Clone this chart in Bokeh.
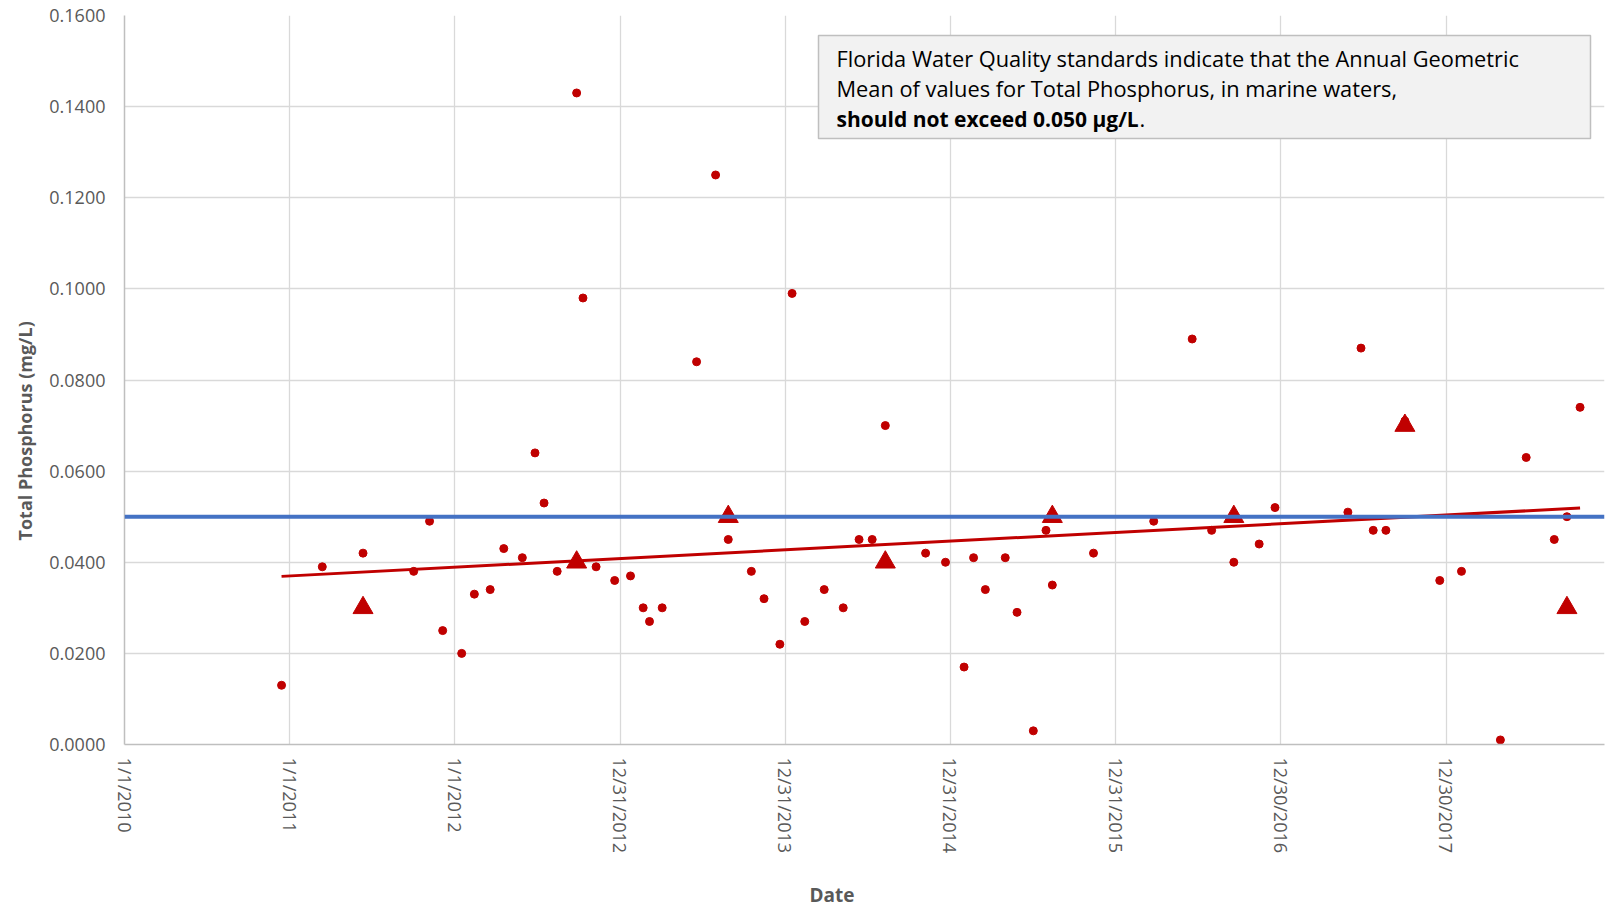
import pandas as pd
from bokeh.plotting import figure
from bokeh.models import (ColumnDataSource, Range1d, FixedTicker, NumeralTickFormatter,
                          Span, Label, BoxAnnotation, Title)
from bokeh.embed import file_html
from bokeh.resources import INLINE

# ---------------- data ----------------
sample_dates = [
    "2010-12-14", "2011-03-14", "2011-06-12", "2011-10-02", "2011-11-06", "2011-12-05",
    "2012-01-16", "2012-02-13", "2012-03-19", "2012-04-18", "2012-05-29", "2012-06-26",
    "2012-07-16", "2012-08-14", "2012-09-26", "2012-10-10", "2012-11-08", "2012-12-19",
    "2013-01-23", "2013-02-20", "2013-03-06", "2013-04-03", "2013-06-18", "2013-07-30",
    "2013-08-27", "2013-10-17", "2013-11-14", "2013-12-19", "2014-01-15", "2014-02-12",
    "2014-03-27", "2014-05-08", "2014-06-12", "2014-07-11", "2014-08-09", "2014-11-06",
    "2014-12-20", "2015-01-30", "2015-02-20", "2015-03-18", "2015-05-01", "2015-05-27",
    "2015-07-02", "2015-07-30", "2015-08-13", "2015-11-12", "2016-03-24", "2016-06-17",
    "2016-07-30", "2016-09-17", "2016-11-12", "2016-12-17", "2017-05-27", "2017-06-25",
    "2017-07-22", "2017-08-19", "2017-09-30", "2017-12-16", "2018-02-02", "2018-04-29",
    "2018-06-25", "2018-08-26", "2018-09-23", "2018-10-22",
]
sample_tp = [
    0.013, 0.039, 0.042, 0.038, 0.049, 0.025,
    0.020, 0.033, 0.034, 0.043, 0.041, 0.064,
    0.053, 0.038, 0.143, 0.098, 0.039, 0.036,
    0.037, 0.030, 0.027, 0.030, 0.084, 0.125,
    0.045, 0.038, 0.032, 0.022, 0.099, 0.027,
    0.034, 0.030, 0.045, 0.045, 0.070, 0.042,
    0.040, 0.017, 0.041, 0.034, 0.041, 0.029,
    0.003, 0.047, 0.035, 0.042, 0.049, 0.089,
    0.047, 0.040, 0.044, 0.052, 0.051, 0.087,
    0.047, 0.047, 0.071, 0.036, 0.038, 0.001,
    0.063, 0.045, 0.050, 0.074,
]

annual_dates = ["2011-06-12", "2012-09-26", "2013-08-27", "2014-08-09",
                "2015-08-13", "2016-09-17", "2017-09-30", "2018-09-23"]
annual_tp = [0.030, 0.040, 0.050, 0.040, 0.050, 0.050, 0.070, 0.030]

trend_dates = ["2010-12-14", "2018-10-22"]
trend_tp = [0.0369, 0.0519]

standard_tp = 0.050

x_tick_labels = ["1/1/2010", "1/1/2011", "1/1/2012", "12/31/2012", "12/31/2013",
                 "12/31/2014", "12/31/2015", "12/30/2016", "12/30/2017"]
y_tick_labels = ["0.0000", "0.0200", "0.0400", "0.0600", "0.0800",
                 "0.1000", "0.1200", "0.1400", "0.1600"]

x_axis_start = "2010-01-01"
x_axis_end = "2018-12-15"

x_title = "Date"
y_title = "Total Phosphorus (mg/L)"
note_line1 = "Florida Water Quality standards indicate that the Annual Geometric"
note_line2 = "Mean of values for Total Phosphorus, in marine waters,"
note_line3_bold = "should not exceed 0.050 \u00b5g/L"
note_line3_tail = "."


def to_ms(vals):
    idx = pd.to_datetime(pd.Index(vals))
    return [int((t - pd.Timestamp("1970-01-01")) // pd.Timedelta("1ms")) for t in idx]


def ticks_ms(labels):
    idx = pd.to_datetime(pd.Index(labels), format="%m/%d/%Y")
    return [int((t - pd.Timestamp("1970-01-01")) // pd.Timedelta("1ms")) for t in idx]


RED = "#C00000"
BLUE = "#4472C4"
FONT = "Open Sans"
GREY_TXT = "#595959"

samples = ColumnDataSource(dict(x=to_ms(sample_dates), y=sample_tp))
annual = ColumnDataSource(dict(x=to_ms(annual_dates), y=annual_tp))
trend = ColumnDataSource(dict(x=to_ms(trend_dates), y=trend_tp))

xr = to_ms([x_axis_start, x_axis_end])
p = figure(width=1606, height=910, output_backend="svg", toolbar_location=None,
           x_range=Range1d(xr[0], xr[1]), y_range=Range1d(0, 0.16),
           min_border_left=123, min_border_right=2, min_border_top=15, min_border_bottom=166)
p.outline_line_color = None
p.background_fill_color = "white"
p.border_fill_color = "white"

# axes
xt = ticks_ms(x_tick_labels)
p.xaxis.ticker = FixedTicker(ticks=xt)
p.xaxis.major_label_overrides = {t: lab for t, lab in zip(xt, x_tick_labels)}
p.xaxis.major_label_orientation = "vertical"
p.yaxis.ticker = FixedTicker(ticks=[float(v) for v in y_tick_labels])
p.yaxis.formatter = NumeralTickFormatter(format="0.0000")

for ax in (p.xaxis[0], p.yaxis[0]):
    ax.axis_line_color = "#bfbfbf"
    ax.axis_line_width = 1.5
    ax.major_tick_line_color = None
    ax.minor_tick_line_color = None
    ax.major_tick_out = 0
    ax.major_tick_in = 0
    ax.major_label_text_font = FONT
    ax.major_label_text_font_size = "18px"
    ax.major_label_text_color = GREY_TXT
p.yaxis.major_label_standoff = 19
p.xaxis.major_label_standoff = 13

p.xgrid.ticker = FixedTicker(ticks=xt)
p.grid.grid_line_color = "#d9d9d9"
p.grid.grid_line_width = 1.3

# glyphs
p.scatter("x", "y", source=annual, marker="triangle", size=20,
          fill_color=RED, line_color=RED)
p.scatter("x", "y", source=samples, marker="circle", size=8,
          fill_color=RED, line_color=RED)
p.line("x", "y", source=trend, line_color=RED, line_width=3)
p.add_layout(Span(location=standard_tp, dimension="width", line_color=BLUE, line_width=4))

# axis titles (as side-panel titles so they can be offset)
p.add_layout(Title(text=y_title, align="left", offset=204, vertical_align="bottom",
                   standoff=20, text_font=FONT, text_font_size="18px",
                   text_font_style="bold", text_color=GREY_TXT), "left")
p.add_layout(Title(text=" ", standoff=10, text_font_size="10px"), "below")
p.add_layout(Title(text=x_title, align="left", offset=685, vertical_align="bottom",
                   standoff=0, text_font=FONT, text_font_size="19px",
                   text_font_style="bold", text_color=GREY_TXT), "below")

# note box
p.add_layout(BoxAnnotation(left=694, right=1466, top=709, bottom=606,
                           left_units="screen", right_units="screen",
                           top_units="screen", bottom_units="screen",
                           fill_color="#f2f2f2", fill_alpha=1.0,
                           line_color="#bfbfbf", line_width=1.5, line_alpha=1.0))
for txt, yy in ((note_line1, 686), (note_line2, 656)):
    p.add_layout(Label(x=712, y=yy, x_units="screen", y_units="screen", text=txt,
                       text_align="left", text_baseline="alphabetic",
                       text_font=FONT, text_font_size="21.8px", text_color="#000000"))
p.add_layout(Label(x=712, y=626, x_units="screen", y_units="screen", text=note_line3_bold,
                   text_align="left", text_baseline="alphabetic",
                   text_font=FONT, text_font_size="21px", text_font_style="bold",
                   text_color="#000000"))
p.add_layout(Label(x=1015, y=626, x_units="screen", y_units="screen", text=note_line3_tail,
                   text_align="left", text_baseline="alphabetic",
                   text_font=FONT, text_font_size="21.8px", text_color="#000000"))

open("out.html", "w").write(file_html(p, INLINE))
